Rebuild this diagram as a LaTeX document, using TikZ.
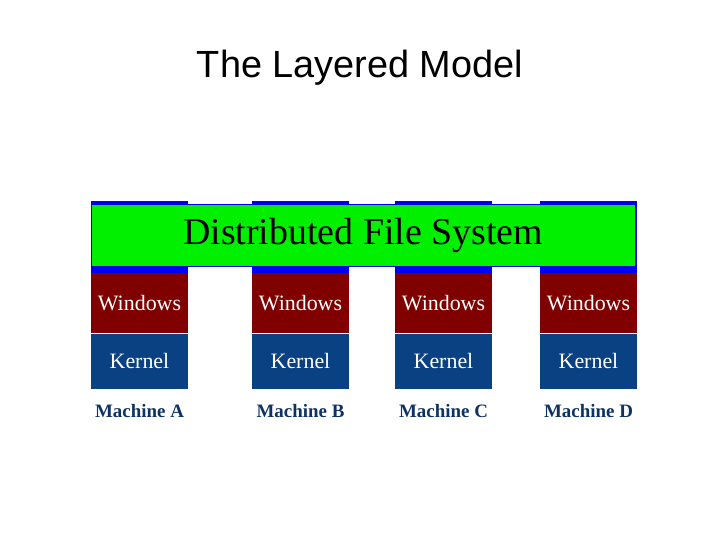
\documentclass[tikz,border=0pt]{standalone}
\usepackage{fontspec}
\setmainfont{Liberation Serif}
\newfontfamily\titlefont{Liberation Sans}
\usetikzlibrary{positioning}
\definecolor{wincol}{RGB}{128,0,0}
\definecolor{kercol}{RGB}{10,65,130}
\definecolor{topcol}{RGB}{0,0,240}
\definecolor{dfscol}{RGB}{0,240,0}
\definecolor{labcol}{RGB}{15,50,100}
\begin{document}
\begin{tikzpicture}[
    x=1bp, y=-1bp,
    top/.style={draw=none, fill=topcol, minimum width=97bp, minimum height=72bp, inner sep=0pt},
    win/.style={fill=wincol, text=white, minimum width=97bp, minimum height=60bp, inner sep=0pt, font=\fontsize{22}{24}\selectfont},
    ker/.style={fill=kercol, text=white, minimum width=97bp, minimum height=55bp, inner sep=0pt, font=\fontsize{22}{24}\selectfont},
    lab/.style={text=labcol, font=\bfseries\fontsize{19}{21}\selectfont}
]
    \useasboundingbox (0,0) rectangle (720,540);

    % Title
    \node[font=\titlefont\fontsize{38}{42}\selectfont] (title) at (360,68) {The Layered Model};

    % Machines
    \foreach \name/\xc/\letter in {a/139.5/A, b/300.5/B, c/443.5/C, d/588.5/D}{
        \node[top] (top\name) at (\xc,237) {};
        \node[win, below=0pt of top\name] (win\name) {Windows};
        \node[ker, below=0pt of win\name] (ker\name) {Kernel};
        \node[lab, below=12bp of ker\name] (lab\name) {Machine \letter};
    }

    % Distributed File System
    \node[fill=dfscol, draw=topcol, line width=1pt, minimum width=544bp, minimum height=62bp,
          font=\fontsize{38}{40}\selectfont] (dfs) at (363,235) {Distributed File System};
\end{tikzpicture}
\end{document}
